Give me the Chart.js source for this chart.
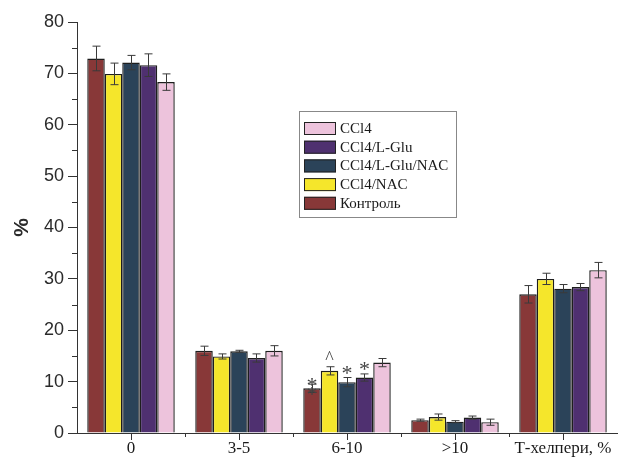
<!DOCTYPE html>
<html>
<head>
<meta charset="utf-8">
<script src="https://cdn.jsdelivr.net/npm/chart.js@4"></script>
<style>
  html, body { margin: 0; padding: 0; background: #fff; }
  #wrap { width: 621px; height: 461px; }
</style>
</head>
<body>
<div id="wrap"><canvas id="grafico"></canvas></div>
<script>
// categories
const categories = ['0', '3-5', '6-10', '>10', 'Т-хелпери, %']

// series (legend order is reversed in the picture)
const seriesNames = ['Контроль', 'CCl4/NAC', 'CCl4/L-Glu/NAC', 'CCl4/L-Glu', 'CCl4']
const seriesColors = ['#883838', '#f5e62b', '#2b4359', '#4f3070', '#edc3dc']

const kontrol    = [72.9, 16.0, 8.7, 2.5, 27.0]
const ccl4Nac    = [69.9, 14.9, 12.1, 3.1, 30.0]
const ccl4GluNac = [72.1, 15.9, 9.9, 2.2, 28.1]
const ccl4Glu    = [71.6, 14.6, 10.8, 3.0, 28.4]
const ccl4       = [68.3, 16.0, 13.7, 2.1, 31.7]

const kontrolErr    = [2.4, 0.9, 0.8, 0.2, 1.7]
const ccl4NacErr    = [2.1, 0.5, 0.8, 0.6, 1.1]
const ccl4GluNacErr = [1.4, 0.2, 0.9, 0.2, 0.8]
const ccl4GluErr    = [2.2, 0.8, 0.7, 0.3, 0.7]
const ccl4Err       = [1.6, 1.0, 0.8, 0.6, 1.5]

// significance marks: [series index, category index, symbol]
const marks = [[0, 2, '*'], [0, 2, '*'], [1, 2, '^'], [2, 2, '*'], [3, 2, '*']]

const yTicks = [0, 10, 20, 30, 40, 50, 60, 70, 80]

const values = [kontrol, ccl4Nac, ccl4GluNac, ccl4Glu, ccl4]
const errors = [kontrolErr, ccl4NacErr, ccl4GluNacErr, ccl4GluErr, ccl4Err]

const serif = '"Liberation Serif", "Times New Roman", serif'
const sans = '"Liberation Sans", Arial, sans-serif'

const extras = {
    id: 'extras',
    afterDatasetsDraw(chart) {
        const c = chart.ctx
        const x = chart.scales.x
        const y = chart.scales.y
        const area = chart.chartArea
        c.save()

        // error bars
        c.strokeStyle = '#3a3a3a'
        c.lineWidth = 1
        values.forEach((vals, i) => {
            const meta = chart.getDatasetMeta(i)
            vals.forEach((v, j) => {
                const bx = Math.round(meta.data[j].x) + 0.5
                const t = y.getPixelForValue(v + errors[i][j])
                const b = y.getPixelForValue(v - errors[i][j])
                c.beginPath()
                c.moveTo(bx, t); c.lineTo(bx, b)
                c.moveTo(bx - 4, t); c.lineTo(bx + 4, t)
                c.moveTo(bx - 4, b); c.lineTo(bx + 4, b)
                c.stroke()
            })
        })

        // marks above bars
        c.fillStyle = '#444'
        c.textAlign = 'center'
        c.textBaseline = 'alphabetic'
        const used = {}
        marks.forEach(([i, j, s]) => {
            const key = i + '_' + j
            const n = used[key] || 0
            used[key] = n + 1
            const bar = chart.getDatasetMeta(i).data[j]
            const top = y.getPixelForValue(values[i][j] + errors[i][j])
            if (s === '^') {
                c.font = '18px ' + serif
                c.fillText(s, bar.x, top - 3)
            } else {
                c.font = '22px ' + serif
                c.fillText(s, bar.x, (n === 0 ? top + 8 : top + 17) - (i === 0 ? 0 : 6))
            }
        })

        // minor y ticks
        c.strokeStyle = '#333'
        c.lineWidth = 1
        c.beginPath()
        for (let v = 5; v < 80; v += 10) {
            const py = Math.round(y.getPixelForValue(v)) + 0.5
            c.moveTo(area.left - 5, py); c.lineTo(area.left, py)
        }
        // x ticks
        for (let j = 0; j < categories.length; j++) {
            const px = Math.round(x.getPixelForValue(j)) + 0.5
            c.moveTo(px, area.bottom); c.lineTo(px, area.bottom + 7)
            if (j > 0) {
                const mx = Math.round((x.getPixelForValue(j) + x.getPixelForValue(j - 1)) / 2) + 0.5
                c.moveTo(mx, area.bottom); c.lineTo(mx, area.bottom + 4)
            }
        }
        c.stroke()

        // legend box
        const lx = 299, ly = 111, lw = 157, lh = 106
        c.fillStyle = '#fff'
        c.fillRect(lx, ly, lw, lh)
        c.strokeStyle = '#888'
        c.strokeRect(lx + 0.5, ly + 0.5, lw, lh)
        c.font = '15px ' + serif
        c.textAlign = 'left'
        c.textBaseline = 'middle'
        const order = chart.data.datasets.slice().reverse()
        order.forEach((ds, k) => {
            const sy = ly + 11 + k * 18.7
            c.fillStyle = ds.backgroundColor
            c.fillRect(lx + 5, sy, 32, 13)
            c.strokeStyle = '#222'
            c.strokeRect(lx + 5.5, sy + 0.5, 31, 12)
            c.fillStyle = '#1a1a1a'
            c.fillText(ds.label, lx + 41, sy + 7)
        })
        c.restore()
    }
}

new Chart(document.getElementById('grafico'), {
    type: 'bar',
    data: {
        labels: categories,
        datasets: seriesNames.map((name, i) => ({
            label: name,
            data: values[i],
            backgroundColor: seriesColors[i],
            borderColor: '#1e1e1e',
            borderWidth: 1.4,
            borderSkipped: 'bottom',
            barPercentage: 1,
            categoryPercentage: 0.81
        }))
    },
    options: {
        responsive: true,
        maintainAspectRatio: false,
        animation: false,
        layout: { padding: { top: 22, right: 4, left: 0, bottom: 0 } },
        plugins: {
            legend: { display: false },
            tooltip: { enabled: false }
        },
        scales: {
            x: {
                grid: { display: false, drawTicks: false },
                border: { display: true, color: '#333', width: 1 },
                ticks: {
                    padding: 5,
                    color: '#1a1a1a',
                    font: { family: serif, size: 17 },
                    maxRotation: 0,
                    autoSkip: false
                },
                afterFit(scale) { scale.height = 28 }
            },
            y: {
                min: 0,
                max: 80,
                afterBuildTicks(scale) { scale.ticks = yTicks.map(v => ({ value: v })) },
                grid: { drawOnChartArea: false, drawTicks: true, tickLength: 9, color: '#333' },
                border: { display: true, color: '#333', width: 1 },
                ticks: {
                    padding: 4,
                    color: '#2a2a2a',
                    font: { family: sans, size: 18 }
                },
                title: {
                    display: true,
                    text: '%',
                    color: '#2a2a2a',
                    font: { family: sans, size: 21, weight: 'bold' },
                    padding: { top: 10, bottom: 0 }
                },
                afterFit(scale) { scale.width = 77 }
            }
        }
    },
    plugins: [extras]
})
</script>
</body>
</html>
